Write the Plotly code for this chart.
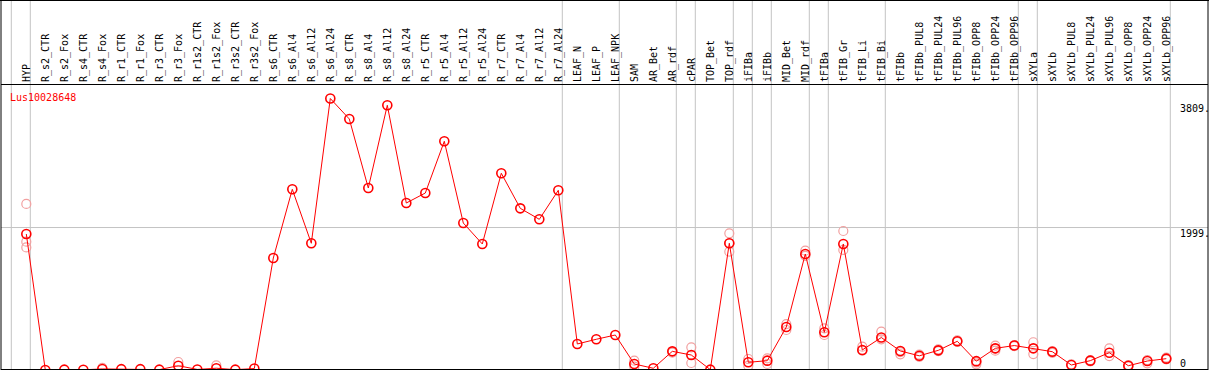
import plotly.graph_objects as go

categories = [
    "HYP", "R_s2_CTR", "R_s2_Fox", "R_s4_CTR", "R_s4_Fox", "R_r1_CTR", "R_r1_Fox",
    "R_r3_CTR", "R_r3_Fox", "R_r1s2_CTR", "R_r1s2_Fox", "R_r3s2_CTR", "R_r3s2_Fox",
    "R_s6_CTR", "R_s6_Al4", "R_s6_Al12", "R_s6_Al24", "R_s8_CTR", "R_s8_Al4",
    "R_s8_Al12", "R_s8_Al24", "R_r5_CTR", "R_r5_Al4", "R_r5_Al12", "R_r5_Al24",
    "R_r7_CTR", "R_r7_Al4", "R_r7_Al12", "R_r7_Al24", "LEAF_N", "LEAF_P", "LEAF_NPK",
    "SAM", "AR_Bet", "AR_rdf", "cPAR", "TOP_Bet", "TOP_rdf", "iFIBa", "iFIBb",
    "MID_Bet", "MID_rdf", "tFIBa", "tFIB_Gr", "tFIB_Li", "tFIB_Bi", "tFIBb",
    "tFIBb_PUL8", "tFIBb_PUL24", "tFIBb_PUL96", "tFIBb_OPP8", "tFIBb_OPP24",
    "tFIBb_OPP96", "sXYLa", "sXYLb", "sXYLb_PUL8", "sXYLb_PUL24", "sXYLb_PUL96",
    "sXYLb_OPP8", "sXYLb_OPP24", "sXYLb_OPP96",
]

means = [
    1908, 0, 5, 3, 15, 12, 12, 5, 60, 8, 25, 5, 20,
    1571, 2535, 1778, 3809, 3522, 2553, 3714, 2343, 2483, 3209, 2062, 1768,
    2760, 2268, 2114, 2521, 365, 431, 491,
    84, 24, 262, 210, 5, 1778, 108, 131,
    603, 1627, 529, 1768, 281, 456, 267,
    199, 276, 403, 124, 304, 343,
    304, 257, 70, 131, 243, 60, 126, 159,
]

N = None
rep1 = [
    2330, N, N, N, 30, N, N, N, 112, N, 66, N, N,
    N, N, N, N, N, N, N, N, N, N, N, N,
    N, N, N, N, N, N, N,
    131, N, 243, 318, N, 1918, 154, 164,
    645, 1674, 585, 1950, 327, 537, 220,
    215, 290, 415, 80, 341, 350,
    389, 265, 80, 140, 304, 70, 94, 175,
]
rep2 = [
    1800, N, N, N, N, N, N, N, N, N, N, N, N,
    N, N, N, N, N, N, N, N, N, N, N, N,
    N, N, N, N, N, N, N,
    46, N, N, 98, N, 1660, 60, 84,
    561, 1600, 491, 1684, 270, 430, 250,
    185, 265, 395, 105, 271, 336,
    224, 240, N, 120, 196, 50, 140, 150,
]
rep3 = [
    1720, N, N, N, N, N, N, N, N, N, N, N, N,
    N, N, N, N, N, N, N, N, N, N, N, N,
    N, N, N, N, N, N, N,
    N, N, N, N, N, 1778, N, N,
    N, N, N, N, N, N, N,
    N, N, N, N, 300, N,
    N, N, N, N, N, N, N, N,
]

# group separators (drawn just after these category indices)
separator_after = [-1, 0, 28, 31, 34, 35, 37, 38, 39, 41, 42, 45, 52, 53, 60]

gene = "Lus10028648"
ytick_vals = [3809, 1999, 0]
ytick_text = ["3809.", "1999.", "0"]
ytick_shift = [-2, 2, 14]

W, H = 1209, 370
ML, MR, MT, MB = 1, 1, 85, 0
PW, PH = W - ML - MR, H - MT - MB
X0 = -1.332
XPX = 19.0
Y_PER_PX = 14.03
GRAY = "#c4c4c4"
MONO = "DejaVu Sans Mono"

xs = list(range(len(categories)))

fig = go.Figure()
for reps in (rep1, rep2, rep3):
    fig.add_trace(go.Scatter(
        x=xs, y=reps, mode="markers", cliponaxis=False, hoverinfo="skip",
        marker=dict(symbol="circle-open", size=9, color="#f2a0a0", line=dict(width=1.2)),
    ))
fig.add_trace(go.Scatter(
    x=xs, y=means, mode="lines+markers", cliponaxis=False,
    line=dict(color="#ff0000", width=1),
    marker=dict(symbol="circle-open", size=9, color="#ff0000", line=dict(width=1.6)),
))

shapes = []
top_paper = (H - 0.5) / PH
for s in separator_after:
    shapes.append(dict(type="line", xref="x", yref="paper", x0=s + 0.21, x1=s + 0.21,
                       y0=0, y1=top_paper, line=dict(color=GRAY, width=1), layer="below"))
shapes.append(dict(type="line", xref="paper", yref="y", x0=0, x1=1, y0=1999, y1=1999,
                   line=dict(color=GRAY, width=1), layer="below"))
# frame
blk = dict(color="black", width=1)
shapes += [
    dict(type="line", xref="paper", yref="paper", x0=-1 / PW, x1=1 + 1 / PW, y0=top_paper, y1=top_paper, line=blk),
    dict(type="line", xref="paper", yref="paper", x0=0, x1=0, y0=0, y1=top_paper, line=blk),
    dict(type="line", xref="paper", yref="paper", x0=1, x1=1, y0=0, y1=top_paper, line=blk),
    dict(type="line", xref="paper", yref="paper", x0=0, x1=1, y0=0.5 / PH, y1=0.5 / PH, line=blk),
]

annotations = [dict(
    text=gene, xref="paper", yref="paper", x=(8 - ML) / PW, y=(H - 90) / PH,
    xanchor="left", yanchor="top", showarrow=False,
    font=dict(family=MONO, size=10, color="#ff0000"),
)]
for v, t, sh in zip(ytick_vals, ytick_text, ytick_shift):
    annotations.append(dict(
        text=t, xref="paper", yref="y", x=(1177.7 - ML) / PW, y=v, yshift=sh,
        xanchor="left", yanchor="top", showarrow=False,
        font=dict(family=MONO, size=10, color="black"),
    ))

fig.update_layout(
    width=W, height=H, template="none",
    margin=dict(l=ML, r=MR, t=MT, b=MB, pad=0),
    paper_bgcolor="white", plot_bgcolor="white", showlegend=False,
    xaxis=dict(range=[X0, X0 + PW / XPX], side="top", tickmode="array",
               tickvals=xs, ticktext=categories, tickangle=-90, ticks="",
               tickfont=dict(family=MONO, size=10, color="black"),
               showgrid=False, zeroline=False, showline=True, linecolor="black",
               linewidth=1, automargin=False),
    yaxis=dict(range=[0, PH * Y_PER_PX], showticklabels=False, showgrid=False,
               zeroline=False, showline=False, automargin=False, ticks=""),
    shapes=shapes, annotations=annotations,
)

fig.write_html(
    "out.html",
    config={"displayModeBar": False},
    post_script="document.body.style.margin='0';document.body.style.overflow='hidden';",
)
